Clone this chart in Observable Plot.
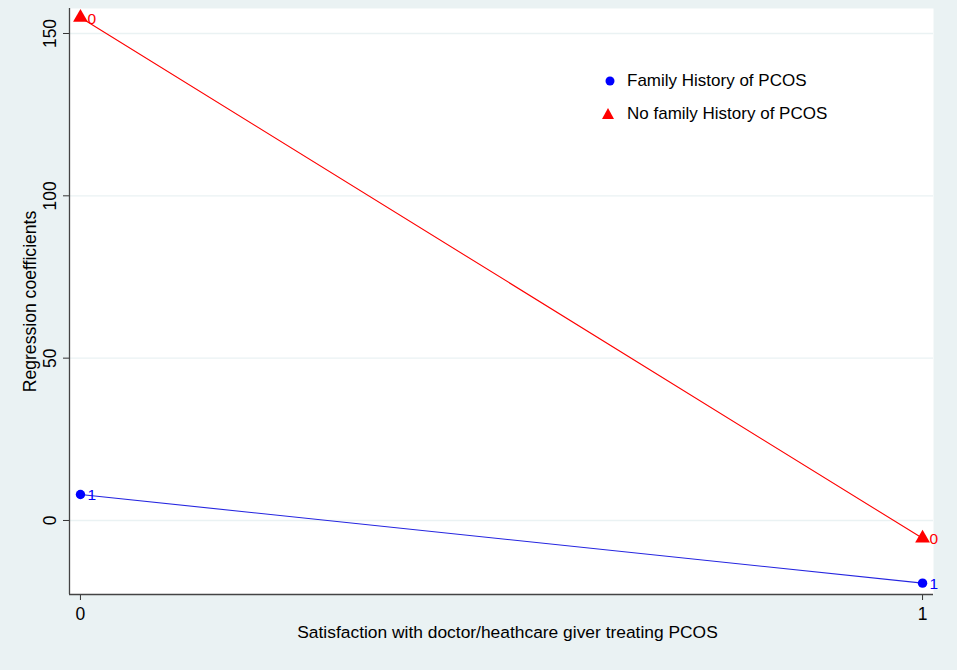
<!DOCTYPE html>
<html>
<head>
<meta charset="utf-8">
<script src="https://cdn.jsdelivr.net/npm/d3@7"></script>
<script src="https://cdn.jsdelivr.net/npm/@observablehq/plot@0.6"></script>
<style>
  html, body { margin: 0; padding: 0; background: #eaf2f3; }
  #wrap { position: relative; width: 957px; height: 670px; font-family: "Liberation Sans", Arial, sans-serif; }
  #legend { position: absolute; left: 601px; top: 64px; font-size: 17px; color: #000; }
  #legend .row { display: flex; align-items: center; height: 33px; }
  #legend svg { margin-right: 12px; }
</style>
</head>
<body>
<div id="wrap"></div>
<script>
const satisfaction = [0, 1];
const seriesNames = ["Family History of PCOS", "No family History of PCOS"];
const familyHistory = [8.0, -19.3];
const noFamilyHistory = [154.9, -5.5];
const pointLabels = ["1", "0"];
const colors = ["#0000ff", "#ff0000"];
const yTicks = [0, 50, 100, 150];
const xTicks = [0, 1];

const data = [];
satisfaction.forEach((s, i) => {
  data.push({x: s, y: familyHistory[i], series: seriesNames[0], label: pointLabels[0]});
  data.push({x: s, y: noFamilyHistory[i], series: seriesNames[1], label: pointLabels[1]});
});
const blue = data.filter(d => d.series === seriesNames[0]);
const red = data.filter(d => d.series === seriesNames[1]);

const chart = Plot.plot({
  width: 957,
  height: 670,
  marginLeft: 69,
  marginRight: 24,
  marginTop: 8,
  marginBottom: 76,
  style: {background: "#eaf2f3", fontFamily: "'Liberation Sans', Arial, sans-serif", fontSize: "17px", color: "#000"},
  x: {domain: [-0.013, 1.013]},
  y: {domain: [-22.8, 157.7]},
  marks: [
    Plot.frame({fill: "white", stroke: null}),
    Plot.gridY(yTicks, {stroke: "#eaf2f3", strokeOpacity: 1, strokeWidth: 1.3}),
    Plot.axisY(yTicks, {tickSize: 6, tickPadding: 8, tickRotate: -90, textAnchor: "middle", lineAnchor: "bottom", fontSize: 17.5, label: null, stroke: "#333", tickFormat: d => String(d)}),
    Plot.axisX(xTicks, {tickSize: 6, tickPadding: 7, fontSize: 17.5, label: null, stroke: "#333", tickFormat: d => String(d)}),
    Plot.ruleX([-0.013], {stroke: "#444", strokeWidth: 1.3}),
    Plot.ruleY([-22.8], {stroke: "#444", strokeWidth: 1.3}),
    Plot.line(red, {x: "x", y: "y", stroke: colors[1], strokeWidth: 1.1}),
    Plot.line(blue, {x: "x", y: "y", stroke: "#2525e0", strokeWidth: 1.1}),
    Plot.dot(red, {x: "x", y: "y", symbol: "triangle", r: 5.5, fill: colors[1]}),
    Plot.dot(blue, {x: "x", y: "y", symbol: "circle", r: 4.7, fill: colors[0]}),
    Plot.text(red, {x: "x", y: "y", text: "label", fill: colors[1], dx: 7, dy: 1, textAnchor: "start", fontSize: 15.5}),
    Plot.text(blue, {x: "x", y: "y", text: "label", fill: colors[0], dx: 7, dy: 1, textAnchor: "start", fontSize: 15.5}),
    Plot.text(["Satisfaction with doctor/heathcare giver treating PCOS"], {frameAnchor: "bottom", dx: 6, dy: 43, fontSize: 17.4, fill: "#000"}),
    Plot.text(["Regression coefficients"], {frameAnchor: "left", dx: -39, rotate: -90, textAnchor: "middle", fontSize: 17.6, fill: "#000"})
  ]
});

const wrap = document.getElementById("wrap");
wrap.appendChild(chart);

const legend = document.createElement("div");
legend.id = "legend";
const symbols = [
  `<svg width="14" height="14"><circle cx="9" cy="7" r="4.5" fill="${colors[0]}"/></svg>`,
  `<svg width="14" height="14"><path d="M7,1 L13,12 L1,12 Z" fill="${colors[1]}"/></svg>`
];
legend.innerHTML = seriesNames.map((n, i) => `<div class="row">${symbols[i]}<span>${n}</span></div>`).join("");
wrap.appendChild(legend);
</script>
</body>
</html>
